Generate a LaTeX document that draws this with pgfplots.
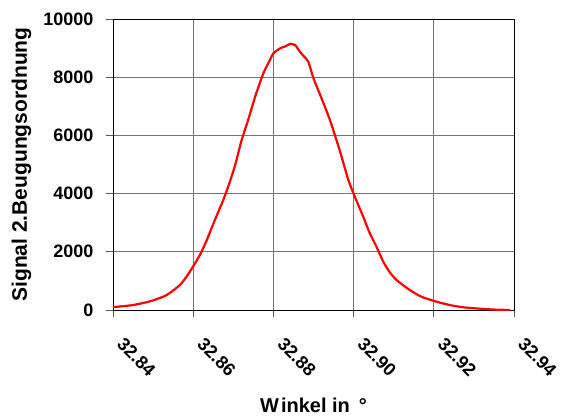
\documentclass[border=0pt]{standalone}
\usepackage{pgfplots}
\pgfplotsset{compat=1.18}
\usepackage{fontspec}
\setmainfont{Liberation Sans}
\begin{document}
\begin{tikzpicture}
\begin{axis}[
  scale only axis,
  width=401bp, height=291bp,
  xmin=32.84, xmax=32.94,
  ymin=0, ymax=10000,
  xtick={32.84,32.86,32.88,32.90,32.92,32.94},
  ytick={0,2000,4000,6000,8000,10000},
  xticklabels={32.84,32.86,32.88,32.90,32.92,32.94},
  scaled x ticks=false, scaled y ticks=false,
  /pgf/number format/assume math mode=true,
  yticklabel={\pgfmathprintnumber[1000 sep={},fixed]{\tick}},
  grid=major,
  major grid style={draw=black!55, line width=1pt},
  axis line style={line width=1pt},
  tick align=outside,
  xtick pos=bottom, ytick pos=left,
  major tick length=7bp,
  tick style={black!65, line width=1pt},
  tick label style={font=\fontsize{18bp}{20bp}\selectfont\bfseries},
  xticklabel style={rotate=-45, anchor=north west, xshift=19bp, yshift=-2bp},
  yticklabel style={xshift=-9bp},
  xlabel={W\kern2bp inkel in \,°},
  ylabel={Signal 2.Beugungsordnung},
  xlabel style={font=\fontsize{20bp}{22bp}\selectfont\bfseries,
    at={(axis description cs:0.5,-0.352)}, anchor=base},
  every axis y label/.style={font=\fontsize{21bp}{23bp}\selectfont\bfseries,
    at={(axis description cs:-0.2145,0.5)}, rotate=90, anchor=base},
]
\addplot[red, line width=2.2pt, smooth, tension=0.4] coordinates {
  (32.8400,100) (32.8425,130) (32.8450,170) (32.8475,240) (32.8500,330)
  (32.8534,515) (32.8567,860) (32.8585,1180) (32.8600,1500) (32.8617,1900)
  (32.8634,2405) (32.8654,3093) (32.8675,3780) (32.8690,4350) (32.8705,5000)
  (32.8720,5800) (32.8737,6529) (32.8755,7350) (32.8775,8134) (32.8790,8550)
  (32.8800,8820) (32.8817,8993) (32.8830,9060) (32.8841,9141) (32.8854,9107)
  (32.8866,8877) (32.8877,8700) (32.8887,8534) (32.8900,7962) (32.8920,7275)
  (32.8941,6529) (32.8965,5500) (32.8987,4467) (32.9003,3894) (32.9024,3206)
  (32.9040,2650) (32.9057,2175) (32.9074,1660) (32.9090,1300) (32.9107,1031)
  (32.9140,687) (32.9170,450) (32.9207,285) (32.9240,170) (32.9273,93)
  (32.9315,45) (32.9350,15) (32.9390,0)
};
\end{axis}
\pgfresetboundingbox
\path (-113bp,-107bp) rectangle (453bp,310bp);
\end{tikzpicture}
\end{document}
